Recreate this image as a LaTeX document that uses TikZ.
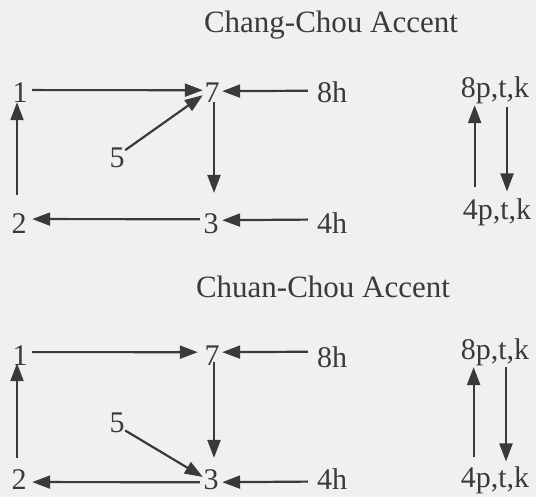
\documentclass[tikz,border=0pt]{standalone}
\usepackage{fontspec}
\setmainfont{Liberation Serif}
\usetikzlibrary{arrows.meta}
\definecolor{paper}{RGB}{240,240,238}
\definecolor{ink}{RGB}{58,58,58}
\tikzset{
  lbl/.style={inner sep=0pt, anchor=base, text=ink, font=\fontsize{30bp}{36bp}\selectfont},
  ttl/.style={inner sep=0pt, anchor=base, text=ink, font=\fontsize{31bp}{37bp}\selectfont},
  arr/.style={draw=ink, line width=2.2bp, -{Triangle[length=18bp,width=13bp]}},
}
\begin{document}
\begin{tikzpicture}[x=1bp, y=-1bp]
  \fill[paper] (0,0) rectangle (536,497);
  \useasboundingbox (0,0) rectangle (536,497);

  % ---------- Chang-Chou accent ----------
  \node[ttl] (title1) at (331,33) {Chang-Chou Accent};
  \node[lbl] (t1)  at (20,103)  {1};
  \node[lbl] (t7)  at (212,103) {7};
  \node[lbl] (t8h) at (332,103) {8h};
  \node[lbl] (t5)  at (117,168) {5};
  \node[lbl] (t2)  at (19,233)  {2};
  \node[lbl] (t3)  at (211,233) {3};
  \node[lbl] (t4h) at (332,233) {4h};
  \node[lbl] (tp8) at (495,98)  {8p,t,k};
  \node[lbl] (tp4) at (497,219) {4p,t,k};

  \draw[arr] ([shift={(4.5,-3)}]t1.east) -- ([shift={(-1.5,-3)}]t7.west);
  \draw[arr] ([shift={(0.5,2)}]t5.north east) -- ([shift={(-1.5,-8)}]t7.south west);
  \draw[arr] ([shift={(-9,-2)}]t8h.west) -- ([shift={(2.5,-2)}]t7.east);
  \draw[arr] ([shift={(2,-1)}]t7.south) -- ([shift={(3,-20)}]t3.north);
  \draw[arr] ([shift={(-9,-3)}]t4h.west) -- ([shift={(3.5,-3)}]t3.east);
  \draw[arr] ([shift={(-3.5,-4)}]t3.west) -- ([shift={(5.5,-4)}]t2.east);
  \draw[arr] ([shift={(-2,-18)}]t2.north) -- ([shift={(-3,-1)}]t1.south);
  \draw[arr] ([shift={(12,-10.5)}]tp4.north west) -- ([shift={(14,0.5)}]tp8.south west);
  \draw[arr] ([shift={(12,2.5)}]tp8.south) -- ([shift={(10,-6.5)}]tp4.north);

  % ---------- Chuan-Chou accent ----------
  \node[ttl] (title2) at (323,297) {Chuan-Chou Accent};
  \node[lbl] (b1)  at (20,365)  {1};
  \node[lbl] (b7)  at (212,365) {7};
  \node[lbl] (b8h) at (332,367) {8h};
  \node[lbl] (b5)  at (117,432) {5};
  \node[lbl] (b2)  at (19,489)  {2};
  \node[lbl] (b3)  at (211,489) {3};
  \node[lbl] (b4h) at (332,489) {4h};
  \node[lbl] (bp8) at (495,359) {8p,t,k};
  \node[lbl] (bp4) at (495,487) {4p,t,k};

  \draw[arr] ([shift={(4.5,-3)}]b1.east) -- ([shift={(-6.5,-3)}]b7.west);
  \draw[arr] ([shift={(0.5,-2)}]b5.south east) -- ([shift={(-0.5,8)}]b3.north west);
  \draw[arr] ([shift={(-9,-5)}]b8h.west) -- ([shift={(2.5,-3)}]b7.east);
  \draw[arr] ([shift={(2,-3)}]b7.south) -- ([shift={(3,-11)}]b3.north);
  \draw[arr] ([shift={(-9,3)}]b4h.west) -- ([shift={(3.5,3)}]b3.east);
  \draw[arr] ([shift={(-3.5,3)}]b3.west) -- ([shift={(5.5,3)}]b2.east);
  \draw[arr] ([shift={(-2,-11)}]b2.north) -- ([shift={(-3,-2)}]b1.south);
  \draw[arr] ([shift={(13,-8.5)}]bp4.north west) -- ([shift={(13,1.5)}]bp8.south west);
  \draw[arr] ([shift={(11,1.5)}]bp8.south) -- ([shift={(11,-4.5)}]bp4.north);
\end{tikzpicture}
\end{document}
